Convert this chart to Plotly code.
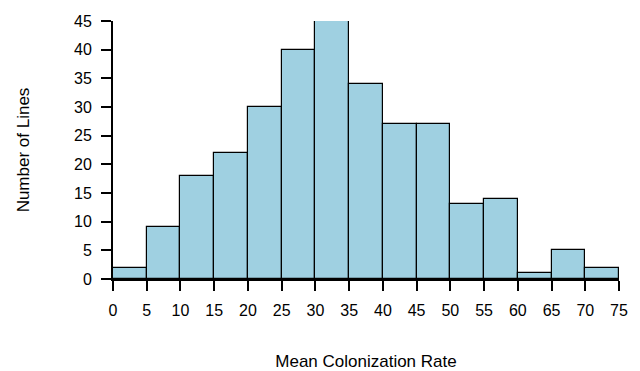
import plotly.graph_objects as go

bin_starts = [0, 5, 10, 15, 20, 25, 30, 35, 40, 45, 50, 55, 60, 65, 70]
counts = [2, 9, 18, 22, 30, 40, 45, 34, 27, 27, 13, 14, 1, 5, 2]
bin_width = 5
x_ticks = list(range(0, 80, 5))
y_ticks = list(range(0, 50, 5))

centers = [s + bin_width / 2 for s in bin_starts]

fig = go.Figure(go.Bar(
    x=centers, y=counts, width=[bin_width] * len(counts),
    marker=dict(color="#9fd0e1", line=dict(color="black", width=1.2)),
    cliponaxis=False,
))

tick_font = dict(family="Liberation Sans, Arial, sans-serif", size=16, color="black")
title_font = dict(family="Liberation Sans, Arial, sans-serif", size=17, color="black")

# page body adds an 8px offset; compensate in the margins
fig.update_layout(
    width=632, height=363,
    margin=dict(l=105, r=21, t=13, b=92),
    plot_bgcolor="white", paper_bgcolor="white",
    showlegend=False,
    font=tick_font,
    bargap=0,
)
fig.update_xaxes(
    range=[0, 75], tickvals=x_ticks, ticktext=[str(v) for v in x_ticks],
    showgrid=False, zeroline=False, showline=True, linecolor="black", linewidth=1.8,
    ticks="outside", ticklen=10, tickwidth=1.8, tickcolor="black",
    ticklabelstandoff=6, tickfont=tick_font, automargin=False,
    title=dict(text="Mean Colonization Rate", standoff=38, font=title_font),
)
fig.update_yaxes(
    range=[0, 45], tickvals=y_ticks, ticktext=[str(v) for v in y_ticks],
    showgrid=False, zeroline=False, showline=True, linecolor="black", linewidth=1.8,
    ticks="outside", ticklen=10, tickwidth=1.8, tickcolor="black",
    ticklabelstandoff=6, tickfont=tick_font, automargin=False,
    title=dict(text="Number of Lines", standoff=40, font=title_font),
)

fig.write_html("out.html")
